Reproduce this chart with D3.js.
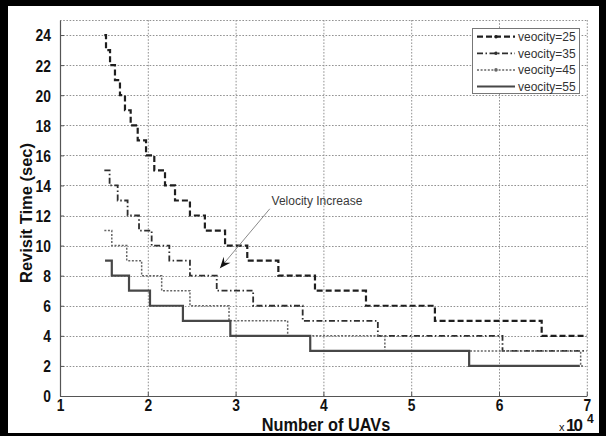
<!DOCTYPE html>
<html>
<head>
<meta charset="utf-8">
<script src="https://cdn.jsdelivr.net/npm/d3@7"></script>
<style>
  html, body { margin: 0; padding: 0; background: #000; }
  svg { display: block; }
</style>
</head>
<body>
<svg id="chart" width="606" height="436"></svg>
<script>
// Axis ticks
const xTicks = [1, 2, 3, 4, 5, 6, 7];          // number of UAVs, x 10^4
const yTicks = [0, 2, 4, 6, 8, 10, 12, 14, 16, 18, 20, 22, 24];

const seriesNames = ["veocity=25", "veocity=35", "veocity=45", "veocity=55"];

// Revisit-time staircases: x where each level starts (x 10^4 UAVs), and the level (sec)
const v25X = [1.505, 1.524, 1.57, 1.626, 1.683, 1.74, 1.805, 1.885, 1.98, 2.074, 2.196,
              2.31, 2.48, 2.65, 2.88, 3.133, 3.487, 3.904, 4.485, 5.27, 6.486, 7.0];
const v25T = [24, 23, 22, 21, 20, 19, 18, 17, 16, 15, 14,
              13, 12, 11, 10, 9, 8, 7, 6, 5, 4, 4];

const v35X = [1.505, 1.565, 1.657, 1.77, 1.90, 2.044, 2.245, 2.48, 2.785, 3.20, 3.764, 4.62, 6.04, 7.0];
const v35T = [15, 14, 13, 12, 11, 10, 9, 8, 7, 6, 5, 4, 3, 3];

const v45X = [1.505, 1.59, 1.76, 1.93, 2.158, 2.48, 2.925, 3.593, 4.70, 6.93, 6.96];
const v45T = [11, 10, 9, 8, 7, 6, 5, 4, 3, 2, 2];

const v55X = [1.513, 1.59, 1.786, 2.025, 2.40, 2.94, 3.85, 5.66, 6.92];
const v55T = [9, 8, 7, 6, 5, 4, 3, 2, 2];

// Annotation
const noteText = "Velocity Increase";
const noteAt = [3.41, 12.67];
const arrowTail = [3.39, 12.45];
const arrowTip = [2.822, 8.5];

const FONT = "'Liberation Sans', Arial, Helvetica, sans-serif";

const svg = d3.select("#chart");
const W = 606, H = 436;

// page frame
svg.append("rect").attr("width", W).attr("height", H).attr("fill", "#000");
svg.append("rect").attr("x", 8).attr("y", 6).attr("width", W - 8 - 7).attr("height", H - 6 - 3)
  .attr("fill", "#fff");

const x = d3.scaleLinear().domain([1, 7]).range([60, 586.8]);
const y = d3.scaleLinear().domain([0, 25]).range([396, 20]);

// grid
const grid = svg.append("g").attr("stroke", "#929292").attr("stroke-width", 1)
  .attr("stroke-dasharray", "1.6,1.6").attr("fill", "none");
grid.selectAll("line.gx").data(xTicks.slice(1)).join("line").attr("class", "gx")
  .attr("x1", d => x(d) + 0.5).attr("x2", d => x(d) + 0.5)
  .attr("y1", y(25)).attr("y2", y(0));
grid.selectAll("line.gy").data(yTicks.slice(1).concat([25])).join("line").attr("class", "gy")
  .attr("y1", d => Math.round(y(d)) + 0.5).attr("y2", d => Math.round(y(d)) + 0.5)
  .attr("x1", x(1)).attr("x2", x(7));

// axes
const xAxis = svg.append("g").attr("transform", `translate(0,${y(0)})`)
  .call(d3.axisBottom(x).tickValues(xTicks).tickFormat(d3.format("d"))
    .tickSizeInner(-4).tickSizeOuter(0).tickPadding(3));
const yAxis = svg.append("g").attr("transform", `translate(${x(1)},0)`)
  .call(d3.axisLeft(y).tickValues(yTicks).tickFormat(d3.format("d"))
    .tickSizeInner(-4).tickSizeOuter(0).tickPadding(9));

[xAxis, yAxis].forEach(g => {
  g.select(".domain").attr("stroke", "#555").attr("stroke-width", 1.2);
  g.selectAll(".tick line").attr("stroke", "#555");
  g.selectAll(".tick text")
    .attr("font-family", FONT).attr("font-size", 16.5).attr("font-weight", "bold")
    .attr("fill", "#111");
});
xAxis.selectAll(".tick text").attr("transform", "scale(0.84,1)");
yAxis.selectAll(".tick text").attr("transform", "scale(0.84,1)")
  .attr("x", -9 / 0.84).attr("dy", "0.36em");

// series
const series = [
  { xs: v25X, ts: v25T, color: "#1e1e1e", width: 2.2, dash: "6,3" },
  { xs: v35X, ts: v35T, color: "#2e2e2e", width: 1.8, dash: "6,2.5,1.5,2.5" },
  { xs: v45X, ts: v45T, color: "#666", width: 1.5, dash: "2,1.6" },
  { xs: v55X, ts: v55T, color: "#474747", width: 2.2, dash: null }
];

const stairs = d3.line()
  .x(d => x(d[0])).y(d => y(d[1]))
  .curve(d3.curveStepAfter);

series.forEach(s => {
  const pts = s.xs.map((v, i) => [v, s.ts[i]]);
  svg.append("path").attr("d", stairs(pts))
    .attr("fill", "none").attr("stroke", s.color).attr("stroke-width", s.width)
    .attr("stroke-dasharray", s.dash);
});

// annotation arrow
const tip = [x(arrowTip[0]), y(arrowTip[1])];
const tail = [x(arrowTail[0]), y(arrowTail[1])];
svg.append("line").attr("x1", tail[0]).attr("y1", tail[1]).attr("x2", tip[0]).attr("y2", tip[1])
  .attr("stroke", "#8a8a8a").attr("stroke-width", 1);
{
  const dx = tail[0] - tip[0], dy = tail[1] - tip[1];
  const L = Math.hypot(dx, dy), ux = dx / L, uy = dy / L, px = -uy, py = ux;
  const len = 11, half = 4.5, notch = 7;
  const p = d3.path();
  p.moveTo(tip[0], tip[1]);
  p.lineTo(tip[0] + ux * len + px * half, tip[1] + uy * len + py * half);
  p.lineTo(tip[0] + ux * notch, tip[1] + uy * notch);
  p.lineTo(tip[0] + ux * len - px * half, tip[1] + uy * len - py * half);
  p.closePath();
  svg.append("path").attr("d", p.toString()).attr("fill", "#111");
}
svg.append("text").attr("x", x(noteAt[0])).attr("y", y(noteAt[1]))
  .attr("font-family", FONT).attr("font-size", 12).attr("fill", "#3a3a3a")
  .text(noteText);

// legend
const lg = svg.append("g");
lg.append("rect").attr("x", 472.5).attr("y", 28.5).attr("width", 107).attr("height", 65)
  .attr("fill", "#fff").attr("stroke", "#777").attr("stroke-width", 1);
const rowY = d3.scalePoint().domain(seriesNames).range([36.7, 86.5]);
seriesNames.forEach((name, i) => {
  const s = series[i];
  const yy = rowY(name);
  lg.append("line").attr("x1", 477).attr("x2", 515).attr("y1", yy).attr("y2", yy)
    .attr("stroke", s.color).attr("stroke-width", s.width).attr("stroke-dasharray", s.dash);
  if (s.dash) lg.append("circle").attr("cx", 496).attr("cy", yy).attr("r", 1.8).attr("fill", s.color);
  lg.append("text").attr("x", 518).attr("y", yy + 4.3)
    .attr("font-family", FONT).attr("font-size", 12).attr("fill", "#333").text(name);
});

// axis titles
svg.append("text").attr("transform", "translate(326,431) scale(0.86,1)")
  .attr("text-anchor", "middle").attr("font-family", FONT).attr("font-size", 19)
  .attr("font-weight", "bold").attr("fill", "#111").text("Number of UAVs");
svg.append("text").attr("transform", "translate(32,213) rotate(-90)")
  .attr("text-anchor", "middle").attr("font-family", FONT).attr("font-size", 16.5)
  .attr("font-weight", "bold").attr("fill", "#111").text("Revisit Time (sec)");

// exponent
const ex = svg.append("text").attr("font-family", FONT).attr("fill", "#111");
ex.append("tspan").attr("x", 559).attr("y", 431).attr("font-size", 11).text("x");
ex.append("tspan").attr("x", 566).attr("y", 431).attr("font-size", 17).attr("font-weight", "bold")
  .attr("textLength", 17).text("10");
ex.append("tspan").attr("x", 587).attr("y", 423).attr("font-size", 12).attr("font-weight", "bold").text("4");
</script>
</body>
</html>
